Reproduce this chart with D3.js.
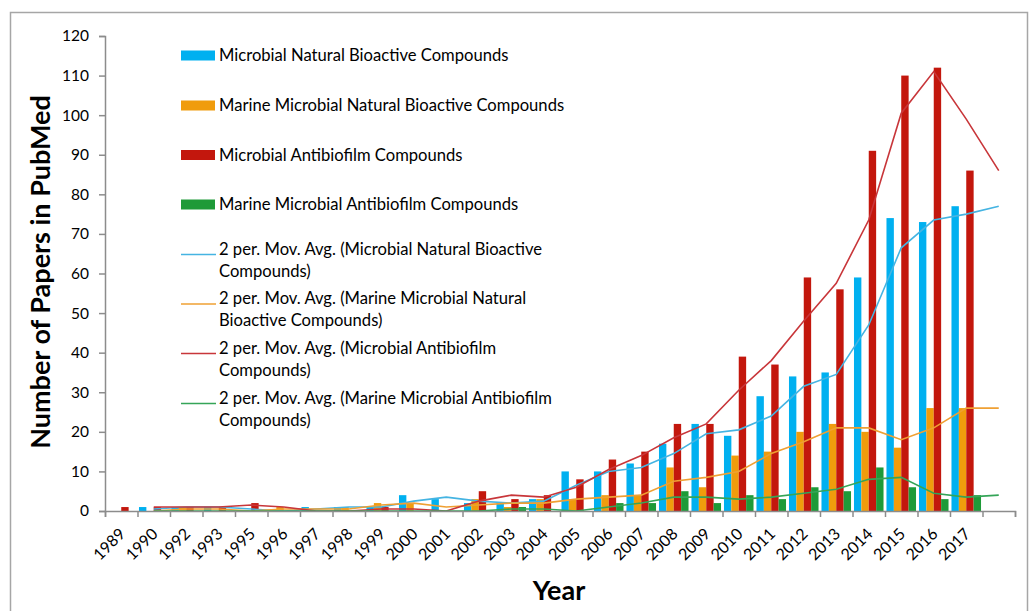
<!DOCTYPE html>
<html>
<head>
<meta charset="utf-8">
<script src="https://d3js.org/d3.v7.min.js"></script>
<style>
  body { margin: 0; background: #fff; }
  svg text { font-family: Lato, "Open Sans", sans-serif; fill: #000; }
</style>
</head>
<body>
<svg id="chart" width="1031" height="611"></svg>
<script>
// categories (last slot is empty, the moving averages run into it)
var years = ['1989', '1990', '1992', '1993', '1995', '1996', '1997', '1998', '1999', '2000',
  '2001', '2002', '2003', '2004', '2005', '2006', '2007', '2008', '2009', '2010',
  '2011', '2012', '2013', '2014', '2015', '2016', '2017', ''];

// bar series, 1989 .. 2017
var microbialBioactive = [0, 1, 1, 1, 0, 0, 1, 1, 1, 4, 3, 2, 2, 3, 10, 10, 12, 17, 22, 19, 29, 34, 35, 59, 74, 73, 77];
var marineBioactive = [0, 0, 1, 0, 0, 1, 0, 1, 2, 2, 0, 3, 1, 3, 3, 4, 4, 11, 6, 14, 15, 20, 22, 20, 16, 26, 26];
var microbialAntibiofilm = [1, 1, 1, 1, 2, 0, 0, 0, 1, 0, 0, 5, 3, 4, 8, 13, 15, 22, 22, 39, 37, 59, 56, 91, 110, 112, 86];
var marineAntibiofilm = [0, 0, 0, 0, 0, 0, 0, 0, 0, 0, 0, 0, 1, 0, 0, 2, 2, 5, 2, 4, 3, 6, 5, 11, 6, 3, 4];

// moving average lines, read from 1990 to the empty slot
var maMicrobialBioactive = [0.5, 1, 1, 0.5, 0, 0.5, 1, 1, 2.5, 3.5, 2.5, 2, 2.5, 6.5, 10, 11, 14.5, 19.5, 20.5, 24, 31.5, 34.5, 47, 66.5, 73.5, 75, 77];
var maMarineBioactive = [0, 0.5, 0.5, 0, 0.5, 0.5, 0.5, 1.5, 2, 1, 1.5, 2, 2, 3, 3.5, 4, 7.5, 8.5, 10, 14.5, 17.5, 21, 21, 18, 21, 26, 26];
var maMicrobialAntibiofilm = [1, 1, 1, 1.5, 1, 0, 0, 0.5, 0.5, 0, 2.5, 4, 3.5, 6, 10.5, 14, 18.5, 22, 30.5, 38, 48, 57.5, 73.5, 100.5, 111, 99, 86];
var maMarineAntibiofilm = [0, 0, 0, 0, 0, 0, 0, 0, 0, 0, 0, 0.5, 0.5, 0, 1, 2, 3.5, 3.5, 3, 3.5, 4.5, 5.5, 8, 8.5, 4.5, 3.5, 4];

var seriesNames = ['Microbial Natural Bioactive Compounds', 'Marine Microbial Natural Bioactive Compounds',
  'Microbial Antibiofilm Compounds', 'Marine Microbial Antibiofilm Compounds'];
var maNames = ['2 per. Mov. Avg. (Microbial Natural Bioactive|Compounds)',
  '2 per. Mov. Avg. (Marine Microbial Natural|Bioactive Compounds)',
  '2 per. Mov. Avg. (Microbial Antibiofilm|Compounds)',
  '2 per. Mov. Avg. (Marine Microbial Antibiofilm|Compounds)'];
var yTicks = [0, 10, 20, 30, 40, 50, 60, 70, 80, 90, 100, 110, 120];

var barColors = ['#00b0f0', '#f09c0c', '#c3170d', '#1e9a38'];
var lineColors = ['#45b4e2', '#efa033', '#c8363a', '#35a558'];

var bars = [microbialBioactive, marineBioactive, microbialAntibiofilm, marineAntibiofilm];
var lines = [maMicrobialBioactive, maMarineBioactive, maMicrobialAntibiofilm, maMarineAntibiofilm];

var svg = d3.select('#chart');

// outer frame
svg.append('rect')
  .attr('x', 10.5).attr('y', 12.5)
  .attr('width', 1017).attr('height', 620)
  .attr('fill', 'none')
  .attr('stroke', '#a6a6a6')
  .attr('stroke-width', 1.5);

var x = d3.scaleBand()
  .domain(d3.range(years.length))
  .range([105, 1015]);

var inner = d3.scaleBand()
  .domain(d3.range(4))
  .range([0, x.bandwidth()])
  .paddingOuter(0.2);

var y = d3.scaleLinear()
  .domain([0, 120])
  .range([511, 36]);

// bars
bars.forEach(function(vals, s) {
  svg.append('g')
    .selectAll('rect')
    .data(vals)
    .enter()
    .append('rect')
    .attr('x', function(d, i) { return x(i) + inner(s); })
    .attr('y', function(d) { return y(d); })
    .attr('width', inner.bandwidth())
    .attr('height', function(d) { return y(0) - y(d); })
    .attr('fill', barColors[s]);
});

// moving averages
var line = d3.line()
  .x(function(d, i) { return x(i + 1) + x.bandwidth() / 2; })
  .y(function(d) { return y(d); });

lines.forEach(function(vals, s) {
  svg.append('path')
    .datum(vals)
    .attr('d', line)
    .attr('fill', 'none')
    .attr('stroke', lineColors[s])
    .attr('stroke-width', 1.6);
});

// y axis
var yAxis = svg.append('g')
  .attr('transform', 'translate(105,0)')
  .call(d3.axisLeft(y).tickValues(yTicks).tickSize(6).tickPadding(10));
yAxis.selectAll('text').style('font-size', '15.5px');

// x axis, ticks on band edges
var xAxis = svg.append('g')
  .attr('transform', 'translate(0,511)')
  .call(d3.axisBottom(d3.scaleLinear().domain([0, years.length]).range([105, 1015]))
    .ticks(years.length).tickSize(6).tickFormat(''));

svg.selectAll('.domain, .tick line')
  .attr('stroke', '#8c8c8c')
  .attr('stroke-width', 1.5);

svg.append('g')
  .selectAll('text')
  .data(years)
  .enter()
  .append('text')
  .attr('transform', function(d, i) {
    return 'translate(' + (x(i) + x.bandwidth() / 2 + 1) + ',531) rotate(-45)';
  })
  .attr('text-anchor', 'end')
  .attr('dy', '0.35em')
  .style('font-size', '16px')
  .text(function(d) { return d; });

// axis titles
svg.append('text')
  .attr('transform', 'translate(50,272) rotate(-90)')
  .attr('text-anchor', 'middle')
  .style('font-size', '27px')
  .style('font-weight', 'bold')
  .text('Number of Papers in PubMed');

svg.append('text')
  .attr('x', 559).attr('y', 600)
  .attr('text-anchor', 'middle')
  .style('font-size', '27px')
  .style('font-weight', 'bold')
  .text('Year');

// legend
var legendRows = [55.5, 105.5, 155, 204.5];
seriesNames.forEach(function(name, s) {
  svg.append('rect')
    .attr('x', 181).attr('y', legendRows[s] - 5)
    .attr('width', 34).attr('height', 10)
    .attr('fill', barColors[s]);
  svg.append('text')
    .attr('x', 219).attr('y', legendRows[s])
    .attr('dy', '0.35em')
    .style('font-size', '16.6px')
    .text(name);
});

var maRows = [254.5, 304, 353.5, 403.5];
maNames.forEach(function(name, s) {
  svg.append('line')
    .attr('x1', 181).attr('x2', 216)
    .attr('y1', maRows[s]).attr('y2', maRows[s])
    .attr('stroke', lineColors[s])
    .attr('stroke-width', 1.6);
  svg.append('text')
    .attr('x', 219).attr('y', maRows[s])
    .attr('dy', '0.35em')
    .style('font-size', '16.6px')
    .selectAll('tspan')
    .data(name.split('|'))
    .enter()
    .append('tspan')
    .attr('x', 219)
    .attr('dy', function(d, i) { return i ? 22 : 0; })
    .text(function(d) { return d; });
});
</script>
</body>
</html>
